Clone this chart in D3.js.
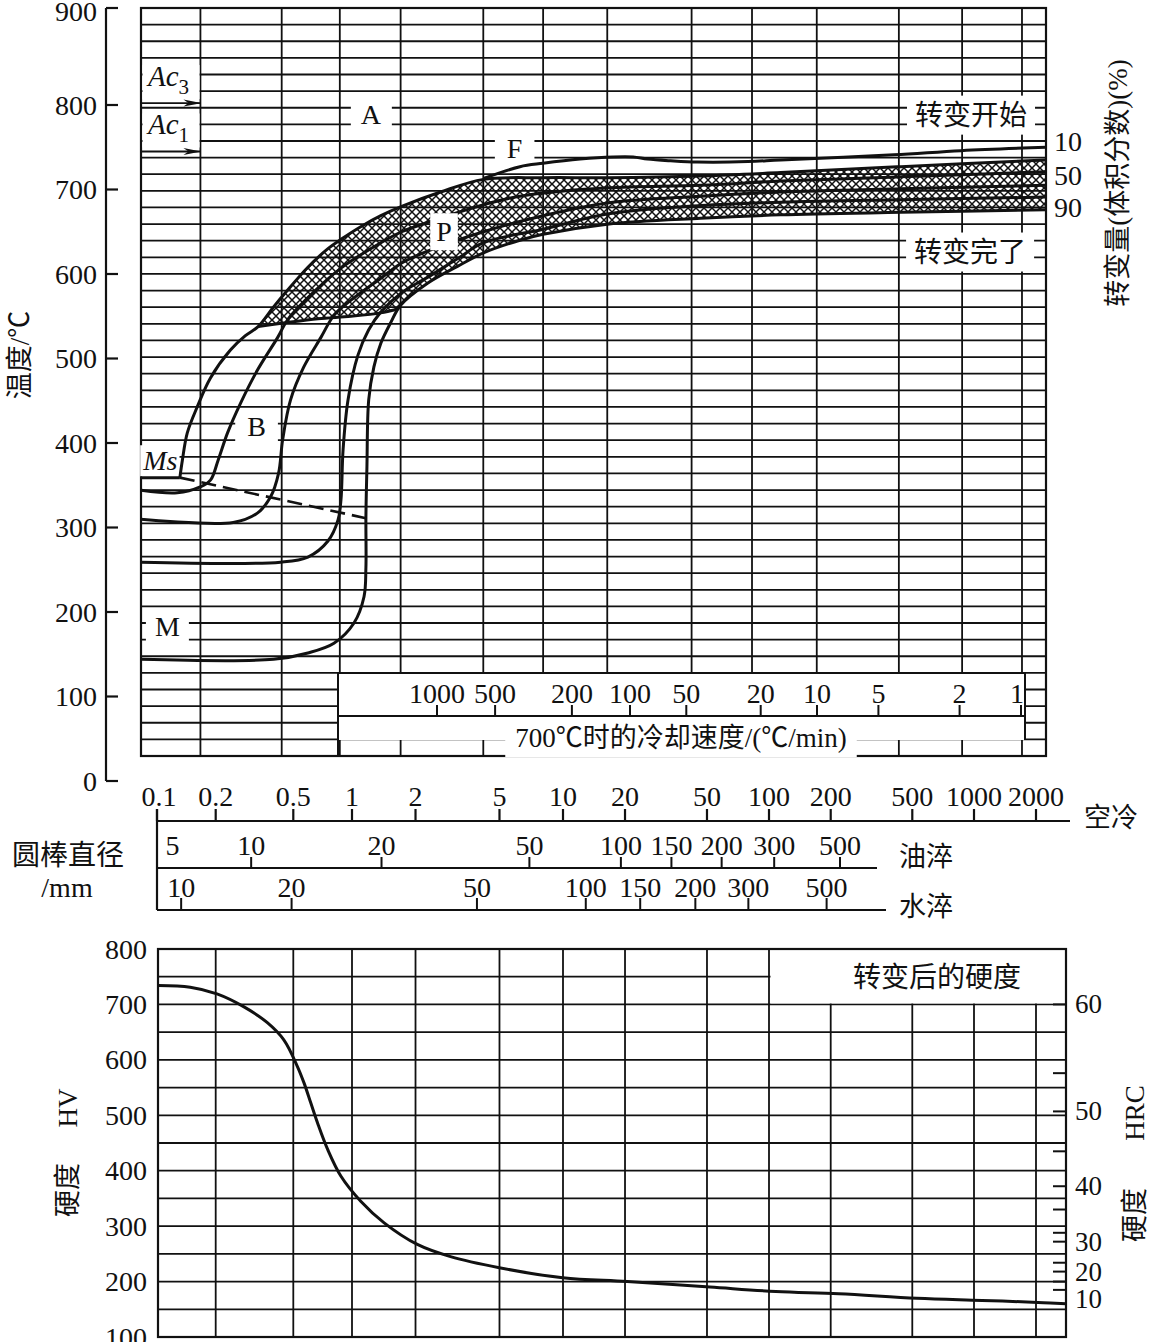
<!DOCTYPE html>
<html>
<head>
<meta charset="utf-8">
<script src="https://cdn.jsdelivr.net/npm/d3@7"></script>
<style>
  body { margin: 0; background: #fff; }
</style>
</head>
<body>
<svg id="chart" width="1151" height="1342"></svg>
<script>
// ---- values ----
const tempTicks = [0, 100, 200, 300, 400, 500, 600, 700, 800, 900];
const timeTicks = [0.1, 0.2, 0.5, 1, 2, 5, 10, 20, 50, 100, 200, 500, 1000, 2000];
const timeLabels = ["0.1", "0.2", "0.5", "1", "2", "5", "10", "20", "50", "100", "200", "500", "1000", "2000"];
// vertical rulings of the graph paper (time units)
const paperTimes = [0.167, 0.436, 0.866, 1.70, 4.19, 8.05, 16.4, 42.1, 82.7, 171, 430, 875, 1710];
const coolRates = [1000, 500, 200, 100, 50, 20, 10, 5, 2, 1];

// bar diameter <-> cooling time
const oilDiam = [5, 10, 20, 50, 100, 150, 200, 300, 500];
const oilTime = [0.12, 0.304, 1.38, 6.93, 19.1, 33.6, 58.9, 106, 222];
const waterDiam = [10, 20, 50, 100, 150, 200, 300, 500];
const waterTime = [0.133, 0.49, 3.91, 12.9, 23.7, 43.9, 79.4, 191];

const ac3Temp = 802;
const ac1Temp = 745;

// [time, temperature]
const msLine = [[0.083, 359], [0.131, 359]];
const msDashed = [[0.131, 359], [1.164, 311]];
const curve1 = [[0.131, 359], [0.135, 380], [0.143, 412], [0.161, 443], [0.188, 477], [0.238, 510], [0.284, 527],
  [0.331, 538], [0.396, 561], [0.468, 581], [0.594, 608], [0.753, 630], [0.878, 641], [1.10, 656], [1.37, 669],
  [1.72, 680], [2.63, 697], [4.2, 712], [8.05, 714], [16.4, 714], [46.6, 716], [114, 720], [440, 727], [2260, 735]];
const curveF = [[4.2, 713], [6.25, 727], [8.05, 731], [12.1, 736], [17.5, 738.5], [21.9, 738.5], [25.7, 736],
  [33.3, 734], [45, 732.5], [79, 733], [114, 735], [407, 741], [865, 746], [2260, 750]];
const curve2 = [[0.083, 344], [0.127, 341], [0.1665, 348], [0.188, 356], [0.206, 380], [0.23, 412], [0.268, 447],
  [0.327, 486], [0.416, 525], [0.468, 546], [0.594, 572], [0.878, 607], [1.37, 637], [1.72, 650], [2.28, 661],
  [4.2, 682], [6.25, 692], [16.4, 702], [46.6, 705], [114, 710], [440, 715], [2260, 721]];
const curve3 = [[0.080, 310], [0.246, 306], [0.327, 317], [0.382, 336], [0.42, 364], [0.441, 404], [0.484, 451],
  [0.566, 490], [0.693, 525], [0.808, 551], [0.988, 569], [1.37, 595], [1.72, 613], [2.28, 627], [4.2, 650],
  [8.05, 669], [16.4, 684], [46.6, 692], [114, 697], [440, 701], [2260, 705]];
const curve4 = [[0.082, 259], [0.43, 259], [0.594, 265], [0.753, 284], [0.848, 309], [0.878, 333], [0.90, 392],
  [0.954, 451], [1.067, 504], [1.2, 534], [1.37, 555], [1.72, 578], [2.28, 596], [3.16, 618], [4.2, 637],
  [8.05, 653], [16.4, 671], [46.6, 681], [114, 685], [440, 688], [2260, 691]];
const curveM = [[0.082, 144], [0.396, 144], [0.594, 151.5], [0.808, 163], [1.022, 187], [1.14, 218], [1.164, 253],
  [1.164, 312], [1.177, 372], [1.2, 451], [1.27, 490], [1.37, 518], [1.53, 543], [1.70, 563], [2.28, 589],
  [3.16, 609], [4.2, 625], [6.25, 640], [8.05, 647], [16.4, 659], [46.6, 666], [114, 670], [440, 673], [2260, 676]];
const noseBottom = [[0.331, 538], [0.446, 542], [0.669, 547], [0.988, 550], [1.37, 554], [1.62, 558]];

const pctLabels = ["10", "50", "90"];
const pctTemps = [757, 717, 679];

// hardness after transformation
const hvTicks = [800, 700, 600, 500, 400, 300, 200, 100];
const hrcLabels = [60, 50, 40, 30, 20, 10];
const hrcAtHV = [700, 507, 372, 272, 218, 169];
const hrcMinorHV = [576, 435, 330, 288, 234, 200, 185];
const hardTime = [0.1015, 0.148, 0.203, 0.278, 0.368, 0.447, 0.525, 0.568, 0.615, 0.666, 0.751, 0.878, 1.10,
  1.42, 2.04, 2.93, 4.99, 9.97, 20.5, 51.6, 108, 219, 526, 1094, 2175, 2800];
const hardHV = [734, 731, 719, 696, 667, 636, 588, 558, 522, 486, 438, 390, 345, 306, 267, 245, 225, 207, 200,
  190, 182, 178, 170, 166, 162, 160];

// ---- drawing ----
const svg = d3.select("#chart");
const SERIF = "'Liberation Serif', 'Times New Roman', serif";
const CJK = "'Liberation Serif', 'Noto Sans CJK SC', sans-serif";
const INK = "#111";

const cct = {left: 141, right: 1046, top: 8, bottom: 756};
const hard = {left: 158, right: 1066, top: 949, bottom: 1337};

const x = d3.scaleLog().domain([0.1, 1, 10, 100, 1000, 2000]).range([157, 352, 563, 769, 974, 1036]);
const y = d3.scaleLinear().domain([0, 800, 900]).range([781, 105, 8]);
const hv = d3.scaleLinear().domain([100, 800]).range([hard.bottom, hard.top]);
const rateX = d3.scaleLog().domain([1000, 100, 10, 1]).range([437, 630, 817, 1021]);

svg.append("rect").attr("width", 1151).attr("height", 1342).attr("fill", "#fff");

const defs = svg.append("defs");
const pat = defs.append("pattern").attr("id", "xhatch")
  .attr("patternUnits", "userSpaceOnUse").attr("width", 8).attr("height", 8);
pat.append("path").attr("d", "M0,0L8,8M8,0L0,8")
  .attr("stroke", INK).attr("stroke-width", 1.5).attr("fill", "none");
defs.append("clipPath").attr("id", "cctClip")
  .append("rect").attr("x", cct.left).attr("y", cct.top)
  .attr("width", cct.right - cct.left).attr("height", cct.bottom - cct.top);
defs.append("marker").attr("id", "arrow")
  .attr("viewBox", "0 -4 18 8").attr("refX", 17).attr("refY", 0)
  .attr("markerWidth", 18).attr("markerHeight", 8).attr("markerUnits", "userSpaceOnUse")
  .attr("orient", "auto")
  .append("path").attr("d", "M0,-3.5L18,0L0,3.5L5,0Z").attr("fill", INK);

function hline(g, x1, x2, yy, w) {
  g.append("line").attr("x1", x1).attr("x2", x2).attr("y1", yy).attr("y2", yy)
    .attr("stroke", INK).attr("stroke-width", w || 1.8);
}
function vline(g, xx, y1, y2, w) {
  g.append("line").attr("x1", xx).attr("x2", xx).attr("y1", y1).attr("y2", y2)
    .attr("stroke", INK).attr("stroke-width", w || 1.8);
}
// text with a white knock-out behind it
function tag(g, str, px, py, opts) {
  opts = opts || {};
  const t = g.append("text").attr("x", px).attr("y", py)
    .attr("text-anchor", opts.anchor || "middle")
    .attr("dominant-baseline", "central")
    .attr("font-family", opts.font || SERIF)
    .attr("font-size", opts.size || 28)
    .attr("font-style", opts.italic ? "italic" : null)
    .attr("fill", INK)
    .text(str);
  if (opts.bg !== false) {
    const b = t.node().getBBox();
    const px2 = opts.padX == null ? 8 : opts.padX, py2 = opts.padY == null ? 2 : opts.padY;
    g.insert("rect", () => t.node())
      .attr("x", b.x - px2).attr("y", b.y - py2)
      .attr("width", b.width + 2 * px2).attr("height", b.height + 2 * py2)
      .attr("fill", "#fff");
  }
  return t;
}

// ===== upper chart: graph paper =====
const gGrid = svg.append("g");
const rows = 45;
d3.range(rows + 1).forEach(i => {
  hline(gGrid, cct.left, cct.right, cct.top + i * (cct.bottom - cct.top) / rows);
});
paperTimes.forEach(t => vline(gGrid, x(t), cct.top, cct.bottom));
gGrid.append("rect").attr("x", cct.left).attr("y", cct.top)
  .attr("width", cct.right - cct.left).attr("height", cct.bottom - cct.top)
  .attr("fill", "none").attr("stroke", INK).attr("stroke-width", 2.2);

// temperature axis
const gAxis = svg.append("g");
vline(gAxis, 106, y(900), y(0), 2.2);
tempTicks.forEach(v => {
  hline(gAxis, 106, 118, y(v), 2.2);
  gAxis.append("text").attr("x", 97).attr("y", v === 900 ? y(v) + 3 : y(v))
    .attr("text-anchor", "end").attr("dominant-baseline", "central")
    .attr("font-family", SERIF).attr("font-size", 28).attr("fill", INK).text(v);
});
gAxis.append("text").attr("transform", "translate(20,355) rotate(-90)")
  .attr("text-anchor", "middle").attr("dominant-baseline", "central")
  .attr("font-family", CJK).attr("font-size", 27).attr("fill", INK).text("温度/℃");

// cooling-rate box at 700 ℃
const gRate = svg.append("g");
const boxL = 338, boxR = 1025, boxT = 673, boxM = 716, boxB = 740;
gRate.append("rect").attr("x", boxL).attr("y", boxT).attr("width", boxR - boxL).attr("height", boxB - boxT)
  .attr("fill", "#fff");
hline(gRate, boxL, boxR, boxT, 2.2);
hline(gRate, boxL, boxR, boxM, 2);
vline(gRate, boxL, boxT, cct.bottom, 2);
vline(gRate, boxR, boxT, boxB, 2);
coolRates.forEach(r => {
  vline(gRate, rateX(r), boxM - 11, boxM, 2);
  gRate.append("text").attr("x", rateX(r) + (r === 1 ? -4 : 0)).attr("y", 693)
    .attr("text-anchor", "middle").attr("dominant-baseline", "central")
    .attr("font-family", SERIF).attr("font-size", 28).attr("fill", INK).text(r);
});
tag(gRate, "700℃时的冷却速度/(℃/min)", 681, 738, {font: CJK, size: 27, padX: 10, padY: 4});

// Ac3 / Ac1 marks
const gAc = svg.append("g");
[[ac3Temp, "3"], [ac1Temp, "1"]].forEach(([temp, sub]) => {
  const ay = y(temp);
  gAc.append("rect").attr("x", cct.left + 1.5).attr("y", ay - 38).attr("width", 57).attr("height", 34).attr("fill", "#fff");
  const t = gAc.append("text").attr("x", 148).attr("y", ay - 17)
    .attr("font-family", SERIF).attr("font-size", 29).attr("font-style", "italic").attr("fill", INK);
  t.append("tspan").text("Ac");
  t.append("tspan").attr("dy", 8).attr("font-size", 21).attr("font-style", "normal").text(sub);
  gAc.append("line").attr("x1", cct.left).attr("x2", x(paperTimes[0])).attr("y1", ay).attr("y2", ay)
    .attr("stroke", INK).attr("stroke-width", 1.8).attr("marker-end", "url(#arrow)");
});

// region labels
const gLab = svg.append("g");
tag(gLab, "A", x(1.23), y(789), {padX: 10});
tag(gLab, "F", x(5.9), y(749), {padX: 12});
tag(gLab, "B", x(0.324), y(419), {padX: 12});
tag(gLab, "M", x(0.113), y(183), {padX: 9});
tag(gLab, "Ms", x(0.104), y(379), {italic: true, padX: 2, padY: 0});
tag(gLab, "转变开始", x(967), y(788), {font: CJK, size: 28, padX: 8, padY: 4});
tag(gLab, "转变完了", x(957), y(626), {font: CJK, size: 28, padX: 8, padY: 4});
pctLabels.forEach((s, i) => {
  gLab.append("text").attr("x", cct.right + 22).attr("y", y(pctTemps[i]))
    .attr("text-anchor", "middle").attr("dominant-baseline", "central")
    .attr("font-family", SERIF).attr("font-size", 28).attr("fill", INK).text(s);
});
gLab.append("text").attr("transform", "translate(1118,183) rotate(-90)")
  .attr("text-anchor", "middle").attr("dominant-baseline", "central")
  .attr("font-family", CJK).attr("font-size", 27).attr("fill", INK).text("转变量(体积分数)(%)");

// ===== transformation curves =====
const line = d3.line().x(d => x(d[0])).y(d => y(d[1])).curve(d3.curveCatmullRom.alpha(0.5));
const straight = d3.line().x(d => x(d[0])).y(d => y(d[1]));
const gCurves = svg.append("g").attr("clip-path", "url(#cctClip)");

// pearlite region: upper start line, then M line back, then the flat nose bottom
const hatchTop = curve1.filter(d => d[0] >= 0.33);
const hatchBottom = curveM.filter(d => d[0] >= 1.69).reverse();
const hatchNose = noseBottom.slice().reverse();
const hatchPath = line(hatchTop) + "L" + line(hatchBottom).slice(1) + "L" + line(hatchNose).slice(1) + "Z";
gCurves.append("path").attr("d", hatchPath).attr("fill", "url(#xhatch)").attr("stroke", "none");

[curve1, curve2, curve3, curve4, curveM, curveF, noseBottom].forEach(c => {
  gCurves.append("path").attr("d", line(c)).attr("fill", "none")
    .attr("stroke", INK).attr("stroke-width", 3).attr("stroke-linejoin", "round");
});
gCurves.append("path").attr("d", straight(msLine)).attr("fill", "none")
  .attr("stroke", INK).attr("stroke-width", 3);
gCurves.append("path").attr("d", straight(msDashed)).attr("fill", "none")
  .attr("stroke", INK).attr("stroke-width", 2.6).attr("stroke-dasharray", "15,7");
tag(svg.append("g"), "P", x(2.73), y(650), {padX: 6, padY: 3});

// ===== time axis and bar-diameter scales =====
const gTime = svg.append("g");
const axY = 821, oilY = 868, waterY = 910;
const x0 = x(0.1);
hline(gTime, x0, 1070, axY, 2.2);
hline(gTime, x0, 877, oilY, 2.2);
hline(gTime, x0, 886, waterY, 2.2);
vline(gTime, x0, axY - 12, waterY, 2.2);
timeTicks.forEach((t, i) => {
  vline(gTime, x(t), axY - 12, axY, 2.2);
  gTime.append("text").attr("x", x(t) + (i === 0 ? 2 : 0)).attr("y", 796)
    .attr("text-anchor", "middle").attr("dominant-baseline", "central")
    .attr("font-family", SERIF).attr("font-size", 28).attr("fill", INK).text(timeLabels[i]);
});
oilDiam.forEach((d, i) => {
  if (i > 0) vline(gTime, x(oilTime[i]), oilY - 11, oilY, 2);
  gTime.append("text").attr("x", x(oilTime[i])).attr("y", 845)
    .attr("text-anchor", "middle").attr("dominant-baseline", "central")
    .attr("font-family", SERIF).attr("font-size", 28).attr("fill", INK).text(d);
});
waterDiam.forEach((d, i) => {
  vline(gTime, x(waterTime[i]), waterY - 12, waterY, 2);
  gTime.append("text").attr("x", x(waterTime[i])).attr("y", 887)
    .attr("text-anchor", "middle").attr("dominant-baseline", "central")
    .attr("font-family", SERIF).attr("font-size", 28).attr("fill", INK).text(d);
});
[["空冷", 1111, 818], ["油淬", 926, 857], ["水淬", 926, 907]].forEach(([s, px, py]) => {
  gTime.append("text").attr("x", px).attr("y", py).attr("text-anchor", "middle").attr("dominant-baseline", "central")
    .attr("font-family", CJK).attr("font-size", 27).attr("fill", INK).text(s);
});
gTime.append("text").attr("x", 68).attr("y", 855).attr("text-anchor", "middle").attr("dominant-baseline", "central")
  .attr("font-family", CJK).attr("font-size", 28).attr("fill", INK).text("圆棒直径");
gTime.append("text").attr("x", 67).attr("y", 887).attr("text-anchor", "middle").attr("dominant-baseline", "central")
  .attr("font-family", SERIF).attr("font-size", 28).attr("fill", INK).text("/mm");

// ===== hardness chart =====
const gHard = svg.append("g");
d3.range(100, 801, 50).forEach(v => hline(gHard, hard.left, hard.right, hv(v)));
timeTicks.slice(1).forEach(t => vline(gHard, x(t), hard.top, hard.bottom));
gHard.append("rect").attr("x", x(100) + 1.5).attr("y", hv(800)).attr("width", hard.right - x(100) - 1.5)
  .attr("height", hv(700) - hv(800) - 1).attr("fill", "#fff");
gHard.append("rect").attr("x", hard.left).attr("y", hard.top)
  .attr("width", hard.right - hard.left).attr("height", hard.bottom - hard.top)
  .attr("fill", "none").attr("stroke", INK).attr("stroke-width", 2.2);
gHard.append("text").attr("x", 937).attr("y", 977).attr("text-anchor", "middle").attr("dominant-baseline", "central")
  .attr("font-family", CJK).attr("font-size", 28).attr("fill", INK).text("转变后的硬度");

const hardLine = d3.line().x((d, i) => x(hardTime[i])).y(d => hv(d)).curve(d3.curveCatmullRom.alpha(0.5));
gHard.append("path").attr("d", hardLine(hardHV)).attr("fill", "none")
  .attr("stroke", INK).attr("stroke-width", 3);

hvTicks.forEach(v => {
  gHard.append("text").attr("x", 147).attr("y", hv(v)).attr("text-anchor", "end").attr("dominant-baseline", "central")
    .attr("font-family", SERIF).attr("font-size", 28).attr("fill", INK).text(v);
});
hrcLabels.forEach((v, i) => {
  if (v !== 10) hline(gHard, hard.right - 13, hard.right, hv(hrcAtHV[i]), 2);
  gHard.append("text").attr("x", hard.right + 9).attr("y", hv(hrcAtHV[i]))
    .attr("dominant-baseline", "central")
    .attr("font-family", SERIF).attr("font-size", 27).attr("fill", INK).text(v);
});
hrcMinorHV.forEach(v => hline(gHard, hard.right - 13, hard.right, hv(v), 2));

// axis titles, rotated
[["HV", 68, 1108, SERIF], ["硬度", 68, 1190, CJK], ["HRC", 1135, 1113, SERIF], ["硬度", 1135, 1215, CJK]]
  .forEach(([s, px, py, f]) => {
    gHard.append("text").attr("transform", `translate(${px},${py}) rotate(-90)`)
      .attr("text-anchor", "middle").attr("dominant-baseline", "central")
      .attr("font-family", f).attr("font-size", 27).attr("fill", INK).text(s);
  });
</script>
</body>
</html>
